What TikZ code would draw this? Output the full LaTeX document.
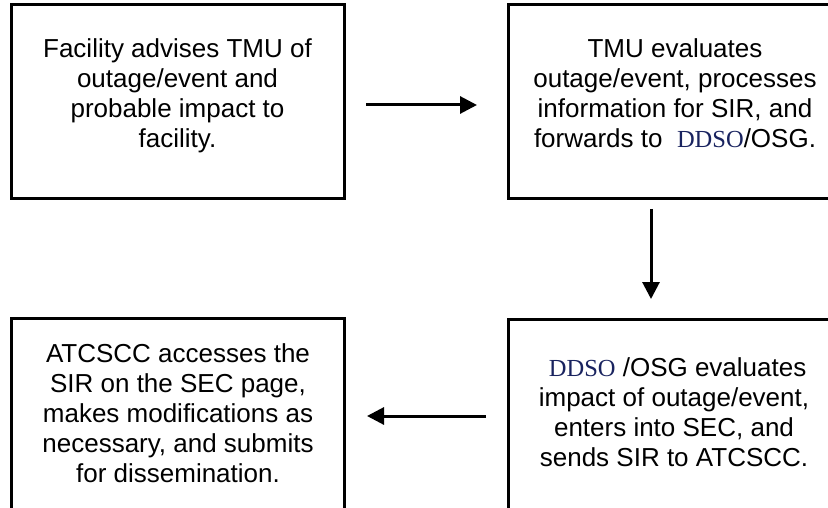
\documentclass[tikz,border=0pt]{standalone}
\usepackage{fontspec}
\setmainfont{Liberation Sans}
\newfontfamily\ddsofont{Liberation Serif}
\usetikzlibrary{arrows.meta}
\definecolor{ddsoblue}{RGB}{25,35,95}
\newcommand{\ddsoname}{{\ddsofont\fontsize{24.5}{30}\selectfont\textcolor{ddsoblue}{DDSO}}}
\begin{document}
\begin{tikzpicture}[x=1pt,y=-1pt,
  box/.style={draw=black, line width=3pt, minimum width=333pt, minimum height=194pt, inner sep=0pt, outer sep=0pt},
  txt/.style={align=center, font=\fontsize{26}{30}\selectfont, inner sep=0pt, outer sep=0pt, anchor=base},
  arr/.style={line width=3pt, -{Triangle[length=17pt,width=17pt]}}]
\useasboundingbox (0,0) rectangle (828,508);
\clip (0,0) rectangle (828,508);
\node[box] (b1) at (177.5,102) {};
\node[box] (b2) at (674.5,102) {};
\node[box] (b3) at (177.5,415) {};
\node[box] (b4) at (674.5,416) {};
\node[txt] (t1) at (177.5,148) {Facility advises TMU of\\outage/event and\\probable impact to\\facility.};
\node[txt] (t2) at (675,148) {TMU evaluates\\outage/event, processes\\information for SIR, and\\forwards to \ \ddsoname/OSG.};
\node[txt] (t3) at (178,482) {ATCSCC accesses the\\SIR on the SEC page,\\makes modifications as\\necessary, and submits\\for dissemination.};
\node[txt] (t4) at (674,466) {\ \ddsoname\ /OSG evaluates\\impact of outage/event,\\enters into SEC, and\\sends SIR to ATCSCC.};
\draw[arr] ([shift={(22,3)}]b1.east) -- ([shift={(-31,3)}]b2.west);
\draw[arr] ([shift={(-23.5,10)}]b2.south) -- ([shift={(-23.5,-20)}]b4.north);
\draw[arr] ([shift={(-22,0)}]b4.west) -- ([shift={(23,1)}]b3.east);
\end{tikzpicture}
\end{document}
